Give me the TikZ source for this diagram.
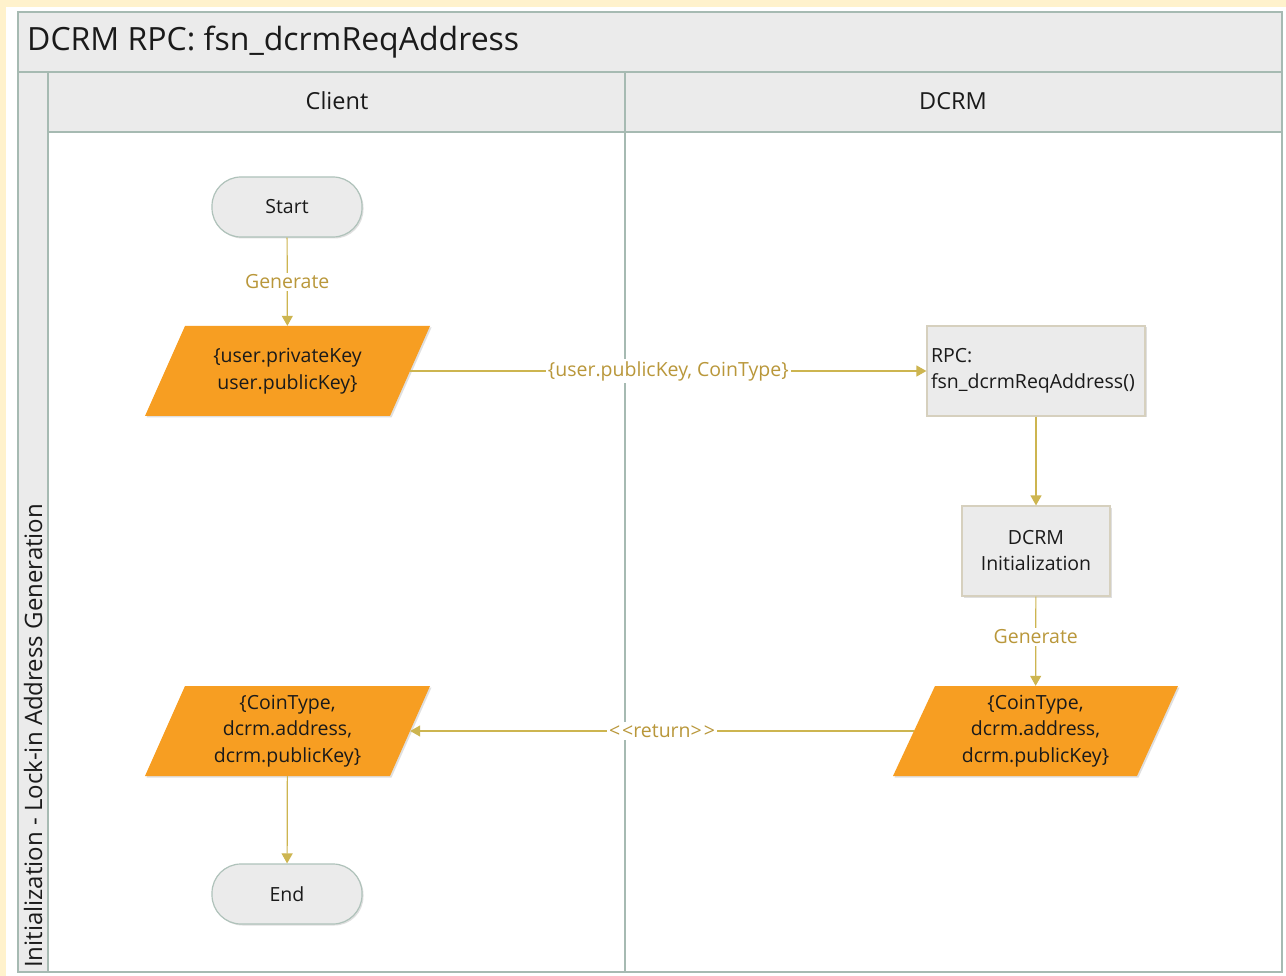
\documentclass[tikz,border=0pt]{standalone}
\usepackage{fontspec}
\setmainfont{Open Sans}
\usetikzlibrary{arrows.meta,shadows}
\definecolor{cream}{HTML}{FFF2CC}
\definecolor{frame}{HTML}{A6BAB2}
\definecolor{boxfill}{HTML}{EBEBEB}
\definecolor{boxline}{HTML}{D6D0BE}
\definecolor{termline}{HTML}{AFC2BA}
\definecolor{dataorange}{HTML}{F79E22}
\definecolor{conn}{HTML}{CDB550}
\definecolor{conntext}{HTML}{B9973A}
\definecolor{ink}{HTML}{1A1A1A}
\tikzset{
  lanefr/.style={draw=frame, line width=2pt},
  terminal/.style={draw=termline, line width=1.2pt, fill=boxfill, rounded corners=29pt,
     minimum width=150pt, minimum height=60pt, font=\fontsize{19.5}{26}\selectfont, text=ink,
     drop shadow={shadow xshift=1.5pt, shadow yshift=-1.5pt, opacity=0.25}},
  procbox/.style={draw=boxline, line width=1.2pt, fill=boxfill, font=\fontsize{19.5}{26}\selectfont, text=ink,
     drop shadow={shadow xshift=1.5pt, shadow yshift=-1.5pt, opacity=0.25}},
  dataio/.style={minimum width=245pt, minimum height=90pt, inner sep=0pt, align=center,
     font=\fontsize{19.5}{26.5}\selectfont, text=ink},
  pfill/.style={fill=dataorange, drop shadow={shadow xshift=1.5pt, shadow yshift=-1.5pt, opacity=0.25}},
  flow/.style={draw=conn, line width=1.2pt, -{Triangle[width=11pt,length=10pt]}},
  flowlabel/.style={fill=white, text=conntext, inner sep=2pt, font=\fontsize{19.5}{24}\selectfont}
}
\begin{document}
\begin{tikzpicture}[x=1pt,y=-1pt]
\useasboundingbox (0,0) rectangle (1286,976);
\fill[cream] (0,0) rectangle (1286,976);
\fill[white] (6,7) rectangle (1286,976);
% title band and header
\fill[boxfill] (18,12) rectangle (1282,72);
\fill[boxfill] (18,72) rectangle (48,972);
\fill[boxfill] (48,72) rectangle (1282,132);
\draw[lanefr] (18,12) rectangle (1282,972);
\draw[lanefr] (18,72) -- (1282,72);
\draw[lanefr] (48,72) -- (48,972);
\draw[lanefr] (48,132) -- (1282,132);
\draw[lanefr] (625,72) -- (625,972);
\node[anchor=west, font=\fontsize{32}{38}\selectfont, text=ink, inner sep=0pt] (title) at (27,42) {DCRM RPC: fsn\_dcrmReqAddress};
\node[font=\fontsize{23.5}{28}\selectfont, text=ink] (hclient) at (337,101) {Client};
\node[font=\fontsize{23.5}{28}\selectfont, text=ink] (hdcrm) at (953,101) {DCRM};
\node[rotate=90, anchor=west, font=\fontsize{24}{28}\selectfont, text=ink, inner sep=0pt] (lane) at (33,968) {Initialization - Lock-in Address Generation};
% nodes
\node[terminal] (start) at (287,207) {Start};
\node[terminal] (end) at (287,894) {End};
\fill[pfill] (185,326) -- (430,326) -- (390,416) -- (145,416) -- cycle;
\node[dataio] (ukeys) at (287.5,371) {\{user.privateKey\\user.publicKey\}};
\node[procbox, minimum width=218pt, minimum height=90pt, align=left, text width=210pt, inner sep=3pt] (rpc) at (1036,371) {RPC:\\fsn\_dcrmReqAddress()};
\node[procbox, minimum width=148pt, minimum height=90pt, align=center] (init) at (1036,551) {DCRM\\Initialization};
\fill[pfill] (935,686) -- (1178,686) -- (1137,776) -- (893,776) -- cycle;
\node[dataio, minimum width=243pt] (dres) at (1035.5,731) {\{CoinType,\\dcrm.address,\\dcrm.publicKey\}};
\fill[pfill] (185,686) -- (430,686) -- (390,776) -- (145,776) -- cycle;
\node[dataio] (cres) at (287.5,731) {\{CoinType,\\dcrm.address,\\dcrm.publicKey\}};
% connectors
\draw[flow] (start) -- node[flowlabel] {Generate} (ukeys);
\draw[flow] (ukeys) -- node[flowlabel] {\{user.publicKey, CoinType\}} (rpc);
\draw[flow] (rpc) -- (init);
\draw[flow] (init) -- node[flowlabel, pos=0.45] {Generate} (dres);
\draw[flow] (dres) -- node[flowlabel, pos=0.5] {<\kern2pt<return>\kern2pt>} (cres);
\draw[flow] (cres) -- (end);
\end{tikzpicture}
\end{document}
